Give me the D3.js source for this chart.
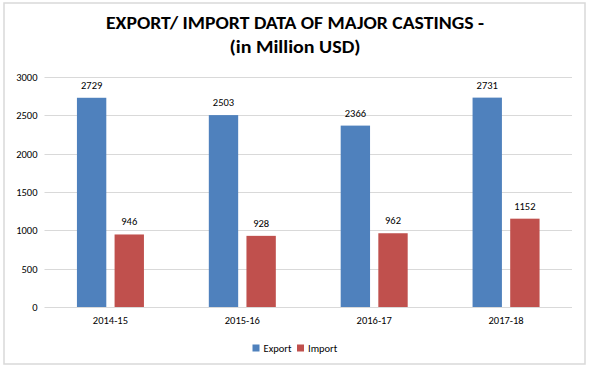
<!DOCTYPE html>
<html><head><meta charset="utf-8">
<script src="https://cdn.jsdelivr.net/npm/d3@7"></script>
<style>html,body{margin:0;padding:0;background:#fff;}svg{display:block;}</style>
</head><body>
<svg id="c" width="591" height="370"></svg>
<script>
const categories = ["2014-15","2015-16","2016-17","2017-18"];
const exportValues = [2729, 2503, 2366, 2731];
const importValues = [946, 928, 962, 1152];
const seriesNames = ["Export","Import"];
const seriesColors = ["#4F81BD","#C0504D"];
const yTicks = [0,500,1000,1500,2000,2500,3000];
const titleLines = ["EXPORT/ IMPORT DATA OF MAJOR CASTINGS -","(in Million USD)"];

const svg = d3.select("#c");
const font = "Calibri, Carlito, Lato, 'Open Sans', sans-serif";

// border
svg.append("rect").attr("x",4).attr("y",3).attr("width",581).attr("height",361)
  .attr("fill","#fff").attr("stroke","#d9d9d9").attr("stroke-width",1.5);

const plotLeft = 44.5, plotRight = 572, plotTop = 77, plotBottom = 307;
const x = d3.scaleBand().domain(categories).range([plotLeft,plotRight]);
const y = d3.scaleLinear().domain([0,3000]).range([plotBottom,plotTop]);
const inner = d3.scaleBand().domain(seriesNames).range([-33.5,33.5]).paddingInner(0.22);

// gridlines
svg.append("g").selectAll("line").data(yTicks).join("line")
  .attr("x1",plotLeft).attr("x2",plotRight)
  .attr("y1",d=>Math.round(y(d))+0.5).attr("y2",d=>Math.round(y(d))+0.5)
  .attr("stroke","#d9d9d9").attr("stroke-width",1);

// y axis labels
const yAxis = svg.append("g").attr("transform",`translate(${plotLeft},0)`)
  .call(d3.axisLeft(y).tickValues(yTicks).tickFormat(d3.format("d")).tickSize(0).tickPadding(7));
yAxis.select(".domain").remove();
yAxis.selectAll("text").attr("font-family",font).attr("font-size",10.5).attr("fill","#000");

// x axis labels
const xAxis = svg.append("g").attr("transform",`translate(0,${plotBottom})`)
  .call(d3.axisBottom(x).tickSize(0).tickPadding(10));
xAxis.select(".domain").remove();
xAxis.selectAll("text").attr("font-family",font).attr("font-size",10.5).attr("fill","#000");

const data = categories.map((c,i)=>({c, vals:[exportValues[i], importValues[i]]}));
const groups = svg.append("g").selectAll("g").data(data).join("g")
  .attr("transform",d=>`translate(${x(d.c)+x.bandwidth()/2},0)`);
groups.selectAll("rect").data(d=>d.vals.map((v,j)=>({v,s:seriesNames[j],j}))).join("rect")
  .attr("x",d=>inner(d.s)).attr("width",inner.bandwidth())
  .attr("y",d=>y(d.v)).attr("height",d=>plotBottom-y(d.v))
  .attr("fill",d=>seriesColors[d.j]);
groups.selectAll("text").data(d=>d.vals.map((v,j)=>({v,s:seriesNames[j],j}))).join("text")
  .attr("x",d=>inner(d.s)+inner.bandwidth()/2).attr("y",d=>y(d.v)-9)
  .attr("text-anchor","middle").attr("font-family",font).attr("font-size",10.5).attr("fill","#000")
  .text(d=>d.v);

// title
const titleWidths = [378, 131];
svg.append("g").selectAll("text").data(titleLines).join("text")
  .attr("x",295).attr("y",(d,i)=>29+i*23.5).attr("text-anchor","middle")
  .attr("font-family",font).attr("font-weight","bold").attr("font-size",17).attr("fill","#000")
  .attr("textLength",(d,i)=>titleWidths[i]).attr("lengthAdjust","spacingAndGlyphs")
  .text(d=>d);

// legend
const legend = svg.append("g");
const lx = [252.5, 297];
seriesNames.forEach((s,i)=>{
  legend.append("rect").attr("x",lx[i]).attr("y",344.5).attr("width",7).attr("height",7).attr("fill",seriesColors[i]);
  legend.append("text").attr("x",lx[i]+11).attr("y",351.5).attr("font-family",font).attr("font-size",10.5).attr("fill","#000").text(s);
});
</script>
</body></html>
